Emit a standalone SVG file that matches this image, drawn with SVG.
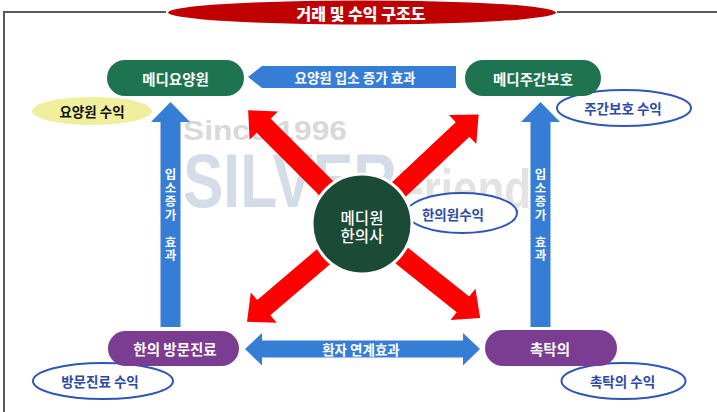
<svg xmlns="http://www.w3.org/2000/svg" width="717" height="412" viewBox="0 0 717 412">
<style>
text{font-family:"Noto Sans CJK KR","Liberation Sans",sans-serif;font-weight:700;text-anchor:middle;dominant-baseline:central}
.wt{fill:#ffffff}
.node{font-size:14.5px}
.lbl{font-size:13.5px}
.rev{fill:#2b4aa6;font-size:13.5px}
.vt{font-size:12.5px;writing-mode:vertical-rl;text-anchor:start;letter-spacing:1px}
.oval{fill:#ffffff;stroke:#2f55b8;stroke-width:2}
.pillg{fill:#1e7350}
.pillp{fill:#7a3d91}
.red{fill:#ff0000}
.blue{fill:#367dd6}
.wm{font-family:"Liberation Sans",Arial,sans-serif;text-anchor:start;dominant-baseline:alphabetic}
</style>
<rect width="717" height="412" fill="#ffffff"/>
<g id="frame">
<path d="M4 412 V12 H166 M557 12 H717" fill="none" stroke="#5a5a5a" stroke-width="2"/>
</g>
<g id="title">
<ellipse cx="362" cy="12.5" rx="194" ry="12" fill="#c00000"/>
<text x="361" y="13" class="wt" style="font-size:16px;font-weight:900">거래 및 수익 구조도</text>
</g>
<g id="watermark">
<text class="wm" x="183" y="140" font-size="27" fill="#d9d9d9" textLength="164" lengthAdjust="spacingAndGlyphs">Since 1996</text>
<text class="wm" x="183" y="207" font-size="76" fill="#d4dce8" textLength="214" lengthAdjust="spacingAndGlyphs">SILVER</text>
<text class="wm" x="397" y="208" font-size="56" fill="#e3e3e3" textLength="134" lengthAdjust="spacingAndGlyphs">Friend</text>
</g>
<g id="connectors">
<g class="red">
<polygon transform="translate(362,224) rotate(225)" points="30,-10 139,-10 139,-20 161,0 139,20 139,10 30,10"/>
<polygon transform="translate(362,224) rotate(-43.2)" points="30,-10 138,-10 138,-20 160,0 138,20 138,10 30,10"/>
<polygon transform="translate(362,224) rotate(139.6)" points="30,-10 129,-10 129,-20 151,0 129,20 129,10 30,10"/>
<polygon transform="translate(362,224) rotate(38.5)" points="30,-10 129,-10 129,-20 151,0 129,20 129,10 30,10"/>
</g>
<g class="blue">
<polygon points="248,77 262,66 456,66 456,88 262,88"/>
<polygon points="170.5,102 190,122 180.5,122 180.5,327 160.5,327 160.5,122 151,122"/>
<polygon points="540.5,102 560,122 550.5,122 550.5,327 530.5,327 530.5,122 521,122"/>
<polygon points="245,349 262,333 262,340.5 463,340.5 463,333 480,349 463,365.5 463,357.5 262,357.5 262,365.5"/>
</g>
<text x="355" y="77" class="wt lbl">요양원 입소 증가 효과</text>
<text x="361" y="349" class="wt lbl">환자 연계효과</text>
<text x="170.5" y="168" class="wt vt">입소증가</text>
<text x="170.5" y="235.5" class="wt vt">효과</text>
<text x="540.5" y="168" class="wt vt">입소증가</text>
<text x="540.5" y="235.5" class="wt vt">효과</text>
</g>
<g id="rev-yoyang">
<ellipse cx="92" cy="111" rx="60" ry="14" fill="#efef9d"/>
<text x="92" y="111" class="lbl" fill="#111111">요양원 수익</text>
</g>
<g id="rev-jugan">
<ellipse cx="624" cy="108" rx="67" ry="18" class="oval"/>
<text x="623" y="108" class="rev">주간보호 수익</text>
</g>
<g id="rev-hanui">
<ellipse cx="462" cy="213" rx="55" ry="20" class="oval"/>
<text x="453" y="214" class="rev">한의원수익</text>
</g>
<g id="rev-visit">
<ellipse cx="103" cy="381" rx="70" ry="18" class="oval"/>
<text x="100" y="381" class="rev">방문진료 수익</text>
</g>
<g id="rev-chok">
<ellipse cx="623.5" cy="381" rx="62" ry="18" class="oval"/>
<text x="622.5" y="381" class="rev">촉탁의 수익</text>
</g>
<g id="node-yoyang">
<rect x="107" y="60" width="137" height="36" rx="18" class="pillg"/>
<text x="175.5" y="78" class="wt node">메디요양원</text>
</g>
<g id="node-jugan">
<rect x="465" y="60" width="136" height="36" rx="18" class="pillg"/>
<text x="533" y="78" class="wt node">메디주간보호</text>
</g>
<g id="node-center">
<circle cx="362" cy="224" r="50" fill="#1b4a36" stroke="#ffffff" stroke-width="3"/>
<text class="wt" style="font-size:15.5px;font-weight:500"><tspan x="362" y="217">메디원</tspan><tspan x="362" y="235">한의사</tspan></text>
</g>
<g id="node-visit">
<rect x="108" y="331" width="131" height="35" rx="17.5" class="pillp"/>
<text x="175" y="348.5" class="wt node">한의 방문진료</text>
</g>
<g id="node-chok">
<rect x="485" y="330" width="132" height="36" rx="18" class="pillp"/>
<text x="550" y="348" class="wt node">촉탁의</text>
</g>
</svg>
